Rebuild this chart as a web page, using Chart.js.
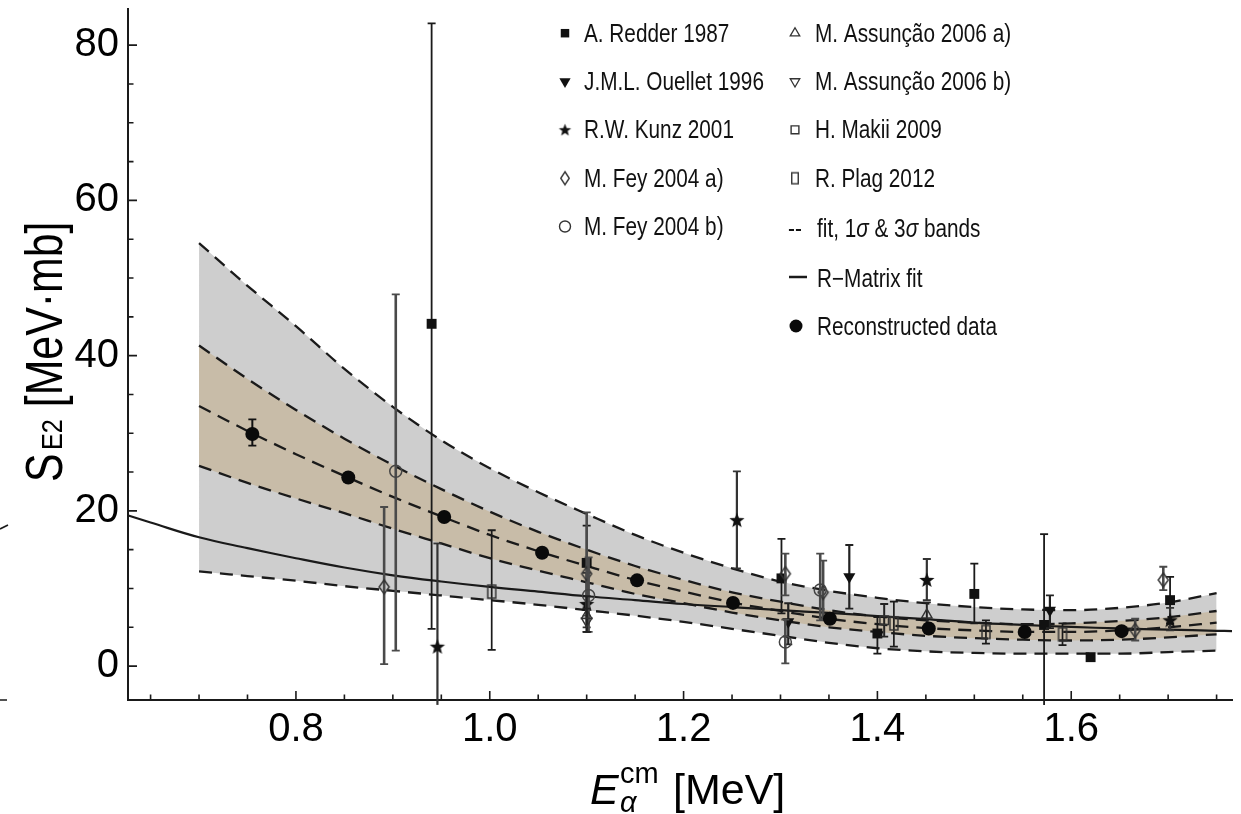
<!DOCTYPE html>
<html><head><meta charset="utf-8">
<script src="https://cdn.jsdelivr.net/npm/chart.js@4.4.1/dist/chart.umd.min.js"></script>
<style>html,body{margin:0;padding:0;background:#fff;}#wrap{width:1241px;height:814px;position:relative;}</style>
</head><body><div id="wrap"><canvas id="c"></canvas></div>
<script>
// ---------------- data ----------------
const xTickValues = [0.8, 1.0, 1.2, 1.4, 1.6];
const xTickLabels = ['0.8', '1.0', '1.2', '1.4', '1.6'];
const yTickValues = [0, 20, 40, 60, 80];
const yTickLabels = ['0', '20', '40', '60', '80'];

const fitX        = [0.70,0.75,0.80,0.85,0.90,0.95,1.00,1.05,1.10,1.15,1.20,1.25,1.30,1.35,1.40,1.45,1.50,1.55,1.60,1.65,1.70,1.75];
const fitCentral  = [33.5,30.3,27.3,24.5,21.8,19.3,16.9,14.8,12.9,11.1,9.6,8.2,7.1,6.1,5.4,4.9,4.6,4.4,4.4,4.6,5.0,5.6];
const band1Upper  = [41.3,37.0,33.0,29.3,25.9,22.8,19.9,17.3,15.0,12.9,11.1,9.5,8.3,7.2,6.4,5.9,5.6,5.4,5.5,5.8,6.3,7.1];
const band1Lower  = [25.8,23.6,21.6,19.7,17.7,15.8,13.9,12.3,10.8,9.3,8.1,6.9,5.9,5.0,4.4,3.9,3.6,3.4,3.3,3.4,3.7,4.1];
const band3Upper  = [54.5,49.0,43.8,38.3,33.4,29.1,25.5,22.4,19.6,16.9,14.6,12.6,10.9,9.7,8.8,8.1,7.6,7.3,7.2,7.5,8.2,9.4];
const band3Lower  = [12.2,11.6,11.0,10.3,9.7,9.1,8.5,7.9,7.2,6.5,5.7,4.8,3.9,3.0,2.3,1.9,1.7,1.6,1.6,1.6,1.8,2.0];

const rMatrixX = [0.627,0.65,0.70,0.75,0.80,0.85,0.90,0.95,1.00,1.05,1.10,1.15,1.20,1.25,1.30,1.35,1.40,1.45,1.50,1.55,1.60,1.65,1.70,1.75,1.766];
const rMatrixY = [19.4,18.5,16.6,15.2,13.9,12.7,11.7,10.9,10.2,9.6,9.0,8.5,8.0,7.6,7.2,6.85,6.45,6.05,5.6,5.3,5.05,4.85,4.7,4.55,4.5];

const redderX  = [0.940, 1.100, 1.301, 1.400, 1.500, 1.572, 1.620, 1.702];
const redderY  = [44.1, 13.3, 11.3, 4.2, 9.3, 5.3, 1.15, 8.5];
const redderLo = [4.8, 7.2, 6.8, 1.6, 5.5, -5.0, null, 5.5];
const redderHi = [82.8, 18.1, 16.4, 6.3, 13.2, 17.0, null, 11.5];

const ouelletX  = [1.308, 1.371, 1.578];
const ouelletY  = [5.7, 11.5, 7.2];
const ouelletLo = [2.8, 7.4, 4.9];
const ouelletHi = [8.1, 15.6, 9.1];

const kunzX  = [0.946, 1.100, 1.255, 1.451, 1.702];
const kunzY  = [2.5, 8.0, 18.8, 11.1, 5.9];
const kunzLo = [-5.0, 5.0, 12.6, 8.5, 4.6];
const kunzHi = [15.8, 12.0, 25.1, 13.8, 7.5];

const feyAX  = [0.891, 1.100, 1.305, 1.344, 1.666, 1.695];
const feyAY  = [10.2, 11.9, 11.9, 9.5, 4.6, 11.1];
const feyALo = [0.25, 6.5, 9.1, 6.0, 3.3, 9.8];
const feyAHi = [20.5, 19.8, 14.5, 13.6, 6.1, 12.8];

const feyBX  = [0.903, 1.102, 1.305, 1.341];
const feyBY  = [25.1, 9.1, 3.1, 9.8];
const feyBLo = [2.0, 4.4, 0.35, 5.9];
const feyBHi = [47.9, 14.0, 6.0, 14.5];

const assuncaoAX  = [1.100, 1.451];
const assuncaoAY  = [6.5, 6.6];
const assuncaoALo = [4.4, 5.0];
const assuncaoAHi = [9.0, 8.2];

const assuncaoBX  = [1.100];
const assuncaoBY  = [5.8];
const assuncaoBLo = [4.4];
const assuncaoBHi = [7.4];

const makiiX  = [1.407];
const makiiY  = [5.9];
const makiiLo = [3.8];
const makiiHi = [8.0];

const plagX  = [1.002, 1.417, 1.512, 1.591];
const plagY  = [9.6, 5.5, 4.4, 4.1];
const plagLo = [2.1, 2.5, 2.9, 2.7];
const plagHi = [17.5, 8.3, 5.9, 5.5];

const reconX  = [0.755, 0.854, 0.953, 1.054, 1.152, 1.251, 1.351, 1.453, 1.552, 1.652];
const reconY  = [29.9, 24.3, 19.2, 14.6, 11.05, 8.14, 6.1, 4.85, 4.4, 4.5];
const reconLo = [28.4, null, null, null, null, null, null, null, null, null];
const reconHi = [31.8, null, null, null, null, null, null, null, null, null];

const legendCol1 = ['A. Redder 1987', 'J.M.L. Ouellet 1996', 'R.W. Kunz 2001', 'M. Fey 2004 a)', 'M. Fey 2004 b)'];
const legendCol2 = ['M. Assunção 2006 a)', 'M. Assunção 2006 b)', 'H. Makii 2009', 'R. Plag 2012', 'fit, 1σ & 3σ bands', 'R\u2212Matrix fit', 'Reconstructed data'];
const yTitleMain = 'S', yTitleSub = 'E2', yTitleUnit = '[MeV\u00B7mb]';
const xTitleMain = 'E', xTitleSub = 'α', xTitleSup = 'cm', xTitleUnit = '[MeV]';

// ---------------- styling helpers ----------------
const FONT = '"Liberation Sans", Arial, Helvetica, sans-serif';
Chart.defaults.font.family = FONT;
Chart.defaults.color = '#000';

function makeStar(outer, inner) {
  const s = Math.ceil(outer * 2 + 2);
  const c = document.createElement('canvas'); c.width = c.height = s;
  const g = c.getContext('2d'); g.fillStyle = '#111'; g.beginPath();
  for (let k = 0; k < 10; k++) {
    const r = k % 2 ? inner : outer, a = -Math.PI / 2 + k * Math.PI / 5;
    g.lineTo(s / 2 + r * Math.cos(a), s / 2 + 0.5 + r * Math.sin(a));
  }
  g.closePath(); g.fill(); return c;
}
function makeRect(w, h, lw) {
  const c = document.createElement('canvas'); c.width = Math.ceil(w + lw + 2); c.height = Math.ceil(h + lw + 2);
  const g = c.getContext('2d'); g.strokeStyle = '#333'; g.lineWidth = lw;
  g.strokeRect((c.width - w) / 2, (c.height - h) / 2, w, h); return c;
}
function makeDiamond(w, h, lw) {
  const c = document.createElement('canvas'); c.width = Math.ceil(w + lw + 2); c.height = Math.ceil(h + lw + 2);
  const g = c.getContext('2d'); g.strokeStyle = '#333'; g.lineWidth = lw;
  const cx = c.width / 2, cy = c.height / 2;
  g.beginPath(); g.moveTo(cx, cy - h / 2); g.lineTo(cx + w / 2, cy); g.lineTo(cx, cy + h / 2); g.lineTo(cx - w / 2, cy); g.closePath(); g.stroke();
  return c;
}
const starPlot = makeStar(8, 3.4), starLegend = makeStar(6.5, 2.8);
const plagPlot = makeRect(8, 13, 1.5), plagLegend = makeRect(6.5, 11, 1.4);
const diamondPlot = makeDiamond(10, 14, 1.5), diamondLegend = makeDiamond(8.5, 13, 1.4);

function pts(xs, ys) { return xs.map((x, i) => ({ x: x, y: ys[i] })); }
const lineBase = { showLine: true, pointRadius: 0, pointHoverRadius: 0, borderColor: '#1a1a1a', borderWidth: 2.3, cubicInterpolationMode: 'monotone' };
const dash = [13, 8];
const clear = 'rgba(0,0,0,0)';

const datasets = [
  Object.assign({ label: '3σ upper', data: pts(fitX, band3Upper), borderDash: dash, fill: 1, backgroundColor: 'rgb(206,206,206)', order: 30 }, lineBase),
  Object.assign({ label: '3σ lower', data: pts(fitX, band3Lower), borderDash: dash, fill: false, order: 29 }, lineBase),
  Object.assign({ label: '1σ upper', data: pts(fitX, band1Upper), borderDash: dash, fill: 3, backgroundColor: 'rgb(200,188,168)', order: 28 }, lineBase),
  Object.assign({ label: '1σ lower', data: pts(fitX, band1Lower), borderDash: dash, fill: false, order: 27 }, lineBase),
  Object.assign({ label: 'fit', data: pts(fitX, fitCentral), borderDash: dash, fill: false, order: 26 }, lineBase),
  Object.assign({ label: 'R-Matrix fit', data: pts(rMatrixX, rMatrixY), fill: false, order: 25 }, lineBase, { borderWidth: 2.2, cubicInterpolationMode: 'default', tension: 0.4 }),
  { label: legendCol1[0], data: pts(redderX, redderY), errLo: redderLo, errHi: redderHi, errColor: '#1a1a1a', errWidth: 1.8,
    pointStyle: 'rect', pointRadius: 7, backgroundColor: '#111', borderColor: '#111', borderWidth: 0, order: 10 },
  { label: legendCol1[1], data: pts(ouelletX, ouelletY), errLo: ouelletLo, errHi: ouelletHi, errColor: '#222', errWidth: 2.2,
    pointStyle: 'triangle', rotation: 180, pointRadius: 7, backgroundColor: '#111', borderColor: '#111', borderWidth: 0, order: 9 },
  { label: legendCol1[2], data: pts(kunzX, kunzY), errLo: kunzLo, errHi: kunzHi, errColor: '#333', errWidth: 2.2,
    pointStyle: starPlot, pointRadius: 8, order: 8 },
  { label: legendCol1[3], data: pts(feyAX, feyAY), errLo: feyALo, errHi: feyAHi, errColor: '#4a4a4a', errWidth: 2.6,
    pointStyle: diamondPlot, pointRadius: 7, order: 7 },
  { label: legendCol1[4], data: pts(feyBX, feyBY), errLo: feyBLo, errHi: feyBHi, errColor: '#4a4a4a', errWidth: 2.6,
    pointStyle: 'circle', pointRadius: 6, backgroundColor: clear, borderColor: '#444', borderWidth: 1.5, order: 6 },
  { label: legendCol2[0], data: pts(assuncaoAX, assuncaoAY), errLo: assuncaoALo, errHi: assuncaoAHi, errColor: '#222', errWidth: 2,
    pointStyle: 'triangle', pointRadius: 6, backgroundColor: clear, borderColor: '#333', borderWidth: 1.4, order: 5 },
  { label: legendCol2[1], data: pts(assuncaoBX, assuncaoBY), errLo: assuncaoBLo, errHi: assuncaoBHi, errColor: '#222', errWidth: 2,
    pointStyle: 'triangle', rotation: 180, pointRadius: 6, backgroundColor: clear, borderColor: '#333', borderWidth: 1.4, order: 4 },
  { label: legendCol2[2], data: pts(makiiX, makiiY), errLo: makiiLo, errHi: makiiHi, errColor: '#222', errWidth: 2,
    pointStyle: 'rect', pointRadius: 6, backgroundColor: clear, borderColor: '#333', borderWidth: 1.4, order: 3 },
  { label: legendCol2[3], data: pts(plagX, plagY), errLo: plagLo, errHi: plagHi, errColor: '#1a1a1a', errWidth: 1.7,
    pointStyle: plagPlot, pointRadius: 7, order: 2 },
  { label: legendCol2[6], data: pts(reconX, reconY), errLo: reconLo, errHi: reconHi, errColor: '#111', errWidth: 2,
    pointStyle: 'circle', pointRadius: 7, backgroundColor: '#0a0a0a', borderColor: '#0a0a0a', borderWidth: 0, order: 1 }
];

// ---------------- plugins ----------------
const errorBars = {
  id: 'errorBars',
  beforeDatasetDraw(chart, args) {
    const ds = chart.data.datasets[args.index];
    if (!ds.errLo) return;
    const ctx = chart.ctx, xs = chart.scales.x, ys = chart.scales.y, cap = 4;
    ctx.save();
    ctx.strokeStyle = ds.errColor; ctx.lineCap = 'butt';
    ds.data.forEach((p, i) => {
      const lo = ds.errLo[i], hi = ds.errHi[i];
      if (lo == null || hi == null) return;
      const px = xs.getPixelForValue(p.x), pl = ys.getPixelForValue(lo), ph = ys.getPixelForValue(hi);
      ctx.lineWidth = ds.errWidth;
      ctx.beginPath(); ctx.moveTo(px, pl); ctx.lineTo(px, ph); ctx.stroke();
      ctx.lineWidth = 1.8;
      ctx.beginPath();
      ctx.moveTo(px - cap, ph); ctx.lineTo(px + cap, ph);
      if (lo > ys.min) { ctx.moveTo(px - cap, pl); ctx.lineTo(px + cap, pl); }
      ctx.stroke();
    });
    ctx.restore();
  }
};

const axisTicks = {
  id: 'axisTicks',
  afterDraw(chart) {
    const ctx = chart.ctx, a = chart.chartArea, xs = chart.scales.x, ys = chart.scales.y;
    ctx.save(); ctx.strokeStyle = '#1a1a1a'; ctx.lineWidth = 1.6; ctx.beginPath();
    for (let k = 13; k <= 35; k++) {
      const px = xs.getPixelForValue(k * 0.05);
      if (px < a.left + 2 || px > a.right) continue;
      ctx.moveTo(px, a.bottom); ctx.lineTo(px, a.bottom - (k % 4 === 0 ? 9 : 5.5));
    }
    for (let k = 0; k <= 17; k++) {
      const py = ys.getPixelForValue(k * 5);
      if (py < a.top) continue;
      ctx.moveTo(a.left, py); ctx.lineTo(a.left + (k % 4 === 0 ? 9 : 5.5), py);
    }
    ctx.stroke();
    // small marks at the left image edge (remnants of the neighbouring panel)
    ctx.beginPath(); ctx.moveTo(0, 529); ctx.lineTo(8, 525); ctx.moveTo(0, 700); ctx.lineTo(7, 700); ctx.stroke();
    ctx.restore();
  }
};

function legendText(ctx, text, x, y) {
  ctx.save(); ctx.translate(x, y); ctx.scale(0.83, 1);
  ctx.fillStyle = '#111'; ctx.textBaseline = 'alphabetic'; ctx.textAlign = 'left';
  let cx = 0;
  text.split(/(σ)/).forEach(part => {
    if (!part) return;
    ctx.font = (part === 'σ' ? 'italic ' : '') + '25px ' + FONT;
    ctx.fillText(part, cx, 0); cx += ctx.measureText(part).width;
  });
  ctx.restore();
}
function legendMarker(ctx, x, y, opts) {
  ctx.save();
  ctx.fillStyle = opts.fill; ctx.strokeStyle = opts.stroke || '#333'; ctx.lineWidth = opts.lw || 0;
  Chart.helpers.drawPoint(ctx, { pointStyle: opts.style, rotation: opts.rotation || 0, radius: opts.r, borderWidth: opts.lw || 0 }, x, y);
  ctx.restore();
}
const legendPlugin = {
  id: 'plotLegend',
  afterDraw(chart) {
    const ctx = chart.ctx;
    const base1 = [41.7, 90, 138.3, 186.7, 235];
    const base2 = [41.7, 90, 138.3, 186.7, 236.5, 286.5, 335];
    const m1 = [
      { style: 'rect', r: 6, fill: '#111' },
      { style: 'triangle', rotation: 180, r: 6.5, fill: '#111' },
      { style: starLegend, r: 6, fill: '#111' },
      { style: diamondLegend, r: 6, fill: clear },
      { style: 'circle', r: 5.5, fill: clear, lw: 1.4 }
    ];
    const m2 = [
      { style: 'triangle', r: 5.5, fill: clear, lw: 1.3 },
      { style: 'triangle', rotation: 180, r: 5.5, fill: clear, lw: 1.3 },
      { style: 'rect', r: 5.5, fill: clear, lw: 1.4 },
      { style: plagLegend, r: 6, fill: clear }
    ];
    legendCol1.forEach((t, i) => {
      legendMarker(ctx, 565, base1[i] - 8.5, m1[i]);
      legendText(ctx, t, 584, base1[i]);
    });
    legendCol2.forEach((t, i) => {
      const tx = i < 4 ? 815 : 817;
      if (i < 4) legendMarker(ctx, 795, base2[i] - 8.5, m2[i]);
      legendText(ctx, t, tx, base2[i]);
    });
    legendText(ctx, '--', 788, base2[4]);
    ctx.save(); ctx.strokeStyle = '#1a1a1a'; ctx.lineWidth = 2.5;
    ctx.beginPath(); ctx.moveTo(789, base2[5] - 9.5); ctx.lineTo(807, base2[5] - 9.5); ctx.stroke(); ctx.restore();
    legendMarker(ctx, 796, base2[6] - 9, { style: 'circle', r: 6.5, fill: '#0a0a0a' });
  }
};

const axisTitles = {
  id: 'axisTitles',
  afterDraw(chart) {
    const ctx = chart.ctx;
    ctx.save();
    ctx.fillStyle = '#000'; ctx.textBaseline = 'alphabetic'; ctx.textAlign = 'left';
    ctx.translate(62, 482); ctx.rotate(-Math.PI / 2); ctx.scale(0.84, 1);
    ctx.font = '51px ' + FONT; ctx.fillText(yTitleMain, 0, 0);
    ctx.font = '30px ' + FONT; ctx.fillText(yTitleSub, 38, 0);
    ctx.font = '51px ' + FONT; ctx.fillText(yTitleUnit, 89, 0);
    ctx.restore();

    ctx.save();
    ctx.fillStyle = '#000'; ctx.textBaseline = 'alphabetic'; ctx.textAlign = 'left';
    ctx.font = 'italic 43px ' + FONT; ctx.fillText(xTitleMain, 590, 804);
    ctx.font = 'italic 29px ' + FONT; ctx.fillText(xTitleSub, 620, 812);
    ctx.font = '29px ' + FONT; ctx.fillText(xTitleSup, 620, 783);
    ctx.font = '43px ' + FONT; ctx.fillText(xTitleUnit, 673, 804);
    ctx.restore();
  }
};

new Chart(document.getElementById('c'), {
  type: 'scatter',
  data: { datasets: datasets },
  options: {
    responsive: true, maintainAspectRatio: false, animation: false,
    layout: { padding: { top: 7, right: 0, bottom: 0, left: 0 } },
    plugins: { legend: { display: false }, tooltip: { enabled: false } },
    scales: {
      x: {
        type: 'linear', min: 0.6267, max: 1.7659,
        grid: { display: false, drawTicks: false },
        border: { display: true, color: '#1a1a1a', width: 2 },
        ticks: { font: { size: 40 }, color: '#000', padding: 6, maxRotation: 0, callback: (v, i) => xTickLabels[i] },
        afterBuildTicks: s => { s.ticks = xTickValues.map(v => ({ value: v })); },
        afterFit: s => { s.height = 114; s.paddingLeft = 0; s.paddingRight = 0; }
      },
      y: {
        type: 'linear', min: -4.368, max: 84.66,
        grid: { display: false, drawTicks: false },
        border: { display: true, color: '#1a1a1a', width: 2 },
        ticks: { font: { size: 40 }, color: '#000', padding: 9, callback: (v, i) => yTickLabels[i] },
        afterBuildTicks: s => { s.ticks = yTickValues.map(v => ({ value: v })); },
        afterFit: s => { s.width = 128; s.paddingTop = 0; s.paddingBottom = 0; }
      }
    }
  },
  plugins: [errorBars, axisTicks, legendPlugin, axisTitles]
});
</script></body></html>
